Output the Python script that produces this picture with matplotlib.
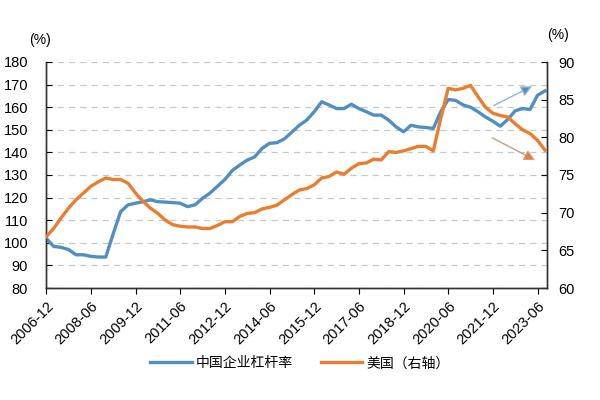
import pandas as pd
import matplotlib
matplotlib.use('Agg')
import matplotlib.pyplot as plt

plt.rcParams['font.family'] = ['Liberation Sans', 'Noto Sans CJK SC', 'DejaVu Sans']

# 季度标签 2006-12 ~ 2023-09
quarters = [p.strftime('%Y-%m') for p in pd.period_range('2006-12', '2023-09', freq='3M')]

# 中国企业杠杆率 (左轴, %)
china = [102, 98.4, 98, 97, 94.7, 94.7, 94, 93.7, 93.7, 104, 113.8, 116.8, 117.5, 118.2,
         119, 118.2, 118, 117.8, 117.5, 116, 116.8, 119.7, 122, 125, 128, 132, 134.4,
         136.6, 138, 141.8, 144, 144.3, 146, 149, 152, 154.3, 158, 162.4, 161, 159.4,
         159.4, 161.3, 159.4, 158, 156.5, 156.5, 154.3, 151.3, 149.1, 152, 151.3, 151,
         150.6, 158, 163.4, 163, 161, 160, 158, 155.7, 153.8, 151.6, 154.6, 158.4,
         159.4, 159, 165.3, 167.2]

# 美国 (右轴, %)
usa = [66.8, 67.9, 69.3, 70.6, 71.7, 72.6, 73.5, 74.1, 74.6, 74.4, 74.4, 73.9, 72.6, 71.5,
       70.6, 69.9, 69.0, 68.4, 68.2, 68.1, 68.1, 67.9, 67.9, 68.3, 68.8, 68.8, 69.5,
       69.9, 70.0, 70.5, 70.7, 71.0, 71.7, 72.4, 73.0, 73.2, 73.7, 74.6, 74.8, 75.4,
       75.1, 75.9, 76.5, 76.6, 77.1, 77.0, 78.1, 78.0, 78.2, 78.5, 78.8, 78.8, 78.2,
       82.5, 86.5, 86.3, 86.5, 86.9, 85.4, 84.0, 83.2, 82.9, 82.7, 81.8, 81.0, 80.5,
       79.6, 78.3]

blue = '#4f8fc4'
orange = '#eb7d30'

fig = plt.figure(figsize=(6, 4), dpi=100)
ax = fig.add_axes([0.077, 0.28, 0.835, 0.565])
ax2 = ax.twinx()

x = list(range(len(quarters)))
l1, = ax.plot(x, china, color=blue, lw=2.4, label='中国企业杠杆率', zorder=3)
l2, = ax2.plot(x, usa, color=orange, lw=2.4, label='美国（右轴）', zorder=3)

ax.set_xlim(0, 67.3)
ax.set_ylim(80, 180)
ax.set_yticks(range(80, 181, 10))
ax2.set_ylim(60, 90)
ax2.set_yticks(range(60, 91, 5))

ax.set_xticks(x[::6])
ax.set_xticklabels(quarters[::6], rotation=45, ha='right', rotation_mode='anchor', fontsize=10.5)

ax.grid(axis='y', color='#c8c8c8', ls=(0, (5, 4)), lw=0.9)
ax.set_axisbelow(True)

for a in (ax, ax2):
    a.spines['top'].set_visible(False)
    for s in a.spines.values():
        s.set_color('#333333')
        s.set_linewidth(1.0)
ax.tick_params(axis='y', direction='in', length=4, labelsize=10.5, pad=13)
ax2.tick_params(axis='y', direction='in', length=4, labelsize=10.5, pad=8)
ax.tick_params(axis='x', direction='out', length=4, pad=4)

fig.text(0.067, 0.9, '(%)', ha='center', va='center', fontsize=10)
fig.text(0.93, 0.912, '(%)', ha='center', va='center', fontsize=10)

# 趋势箭头
ax.annotate('', xy=(65.6, 169.8), xytext=(59.8, 160.2),
            arrowprops=dict(arrowstyle='-|>', color='#8fb6d8', lw=1.0,
                            mutation_scale=16, fc=blue, ec='#8fb6d8'), zorder=4)
ax2.annotate('', xy=(66.0, 76.8), xytext=(59.6, 80.1),
             arrowprops=dict(arrowstyle='-|>', color='#c8a080', lw=1.0,
                             mutation_scale=16, fc=orange, ec='#c8a080'), zorder=4)

fig.legend(handles=[l1, l2], loc='center', bbox_to_anchor=(0.5, 0.092), ncol=2,
           frameon=False, fontsize=10, handlelength=3.0, handletextpad=0.3,
           columnspacing=2.0)

fig.savefig('out.png', dpi=100)
